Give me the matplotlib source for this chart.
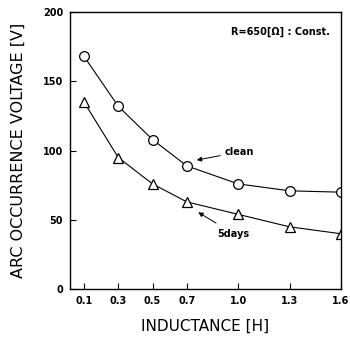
import matplotlib
matplotlib.use("Agg")
import matplotlib.pyplot as plt

INDUCTANCE = [0.1, 0.3, 0.5, 0.7, 1.0, 1.3, 1.6]
CLEAN = [168, 132, 108, 89, 76, 71, 70]
DAYS5 = [135, 95, 76, 63, 54, 45, 40]
XTICKS = ["0.1", "0.3", "0.5", "0.7", "1.0", "1.3", "1.6"]
YTICKS = [0, 50, 100, 150, 200]

fig = plt.figure(figsize=(3.5, 3.37), dpi=100)
ax = fig.add_axes([0.2, 0.142, 0.774, 0.822])

ax.plot(INDUCTANCE, CLEAN, color="black", lw=0.8, marker="o", ms=7,
        mfc="white", mec="black", mew=0.9)
ax.plot(INDUCTANCE, DAYS5, color="black", lw=0.8, marker="^", ms=7,
        mfc="white", mec="black", mew=0.9)

ax.set_xlim(0.018, 1.6)
ax.set_ylim(0, 200)
ax.set_xticks(INDUCTANCE)
ax.set_xticklabels(XTICKS, fontsize=7, fontweight="bold")
ax.set_yticks(YTICKS)
ax.set_yticklabels([str(v) for v in YTICKS], fontsize=7, fontweight="bold")
ax.tick_params(direction="in", length=4, width=0.8, pad=5)
for s in ax.spines.values():
    s.set_linewidth(1.0)

ax.text(0.96, 0.93, "R=650[Ω] : Const.", transform=ax.transAxes,
        ha="right", va="center", fontsize=7, fontweight="bold")

ax.annotate("clean", xy=(0.75, 93), xytext=(0.92, 99),
            fontsize=7, fontweight="bold", va="center",
            arrowprops=dict(arrowstyle="-|>", color="black", lw=0.7,
                            mutation_scale=7, shrinkA=1, shrinkB=1))
ax.annotate("5days", xy=(0.76, 56), xytext=(0.88, 40),
            fontsize=7, fontweight="bold", va="center",
            arrowprops=dict(arrowstyle="-|>", color="black", lw=0.7,
                            mutation_scale=7, shrinkA=4, shrinkB=1))

ax.set_xlabel("INDUCTANCE [H]", fontsize=11, labelpad=9)
ax.set_ylabel("ARC OCCURRENCE VOLTAGE [V]", fontsize=11.5, labelpad=12)

fig.savefig("out.png", dpi=100)
